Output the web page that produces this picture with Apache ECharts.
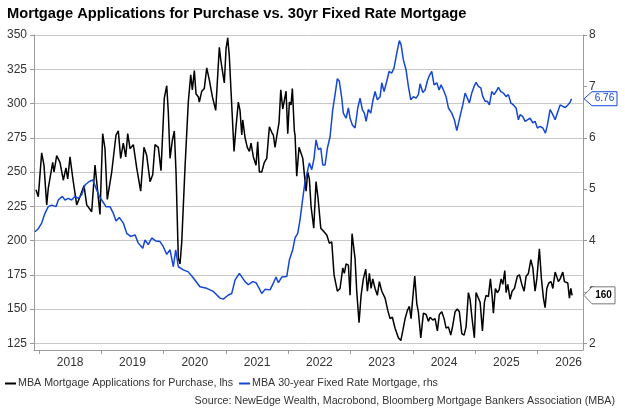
<!DOCTYPE html>
<html>
<head>
<meta charset="utf-8">
<script src="https://cdn.jsdelivr.net/npm/echarts@6/dist/echarts.min.js"></script>
<style>
html, body { margin: 0; padding: 0; background: #fff; }
#main { width: 625px; height: 419px; }
</style>
</head>
<body>
<div id="main"></div>
<script>
// x values are fractional years (2018.0 = 1 Jan 2018)
var yearTicks = [2018, 2019, 2020, 2021, 2022, 2023, 2024, 2025, 2026];
var yearLabelPos = [2018.5, 2019.5, 2020.5, 2021.5, 2022.5, 2023.5, 2024.5, 2025.5, 2026.5];
var leftTicks = [125, 150, 175, 200, 225, 250, 275, 300, 325, 350];
var rightTicks = [2, 3, 4, 5, 6, 7, 8];

// MBA Mortgage Applications for Purchase (lhs)
var purchaseT = [
	2017.952, 2017.989, 2018.043, 2018.080, 2018.124, 2018.149, 2018.220, 2018.241, 2018.284, 2018.337,
	2018.390, 2018.433, 2018.461, 2018.498, 2018.541, 2018.605, 2018.658, 2018.722, 2018.766, 2018.846,
	2018.899, 2018.926, 2018.979, 2019.022, 2019.059, 2019.096, 2019.167, 2019.236, 2019.273, 2019.311,
	2019.353, 2019.392, 2019.424, 2019.461, 2019.514, 2019.568, 2019.632, 2019.685, 2019.729, 2019.782,
	2019.825, 2019.862, 2019.915, 2019.958, 2020.011, 2020.050, 2020.075, 2020.103, 2020.140, 2020.172,
	2020.199, 2020.236, 2020.263, 2020.291, 2020.343, 2020.396, 2020.435, 2020.461, 2020.493, 2020.520,
	2020.557, 2020.573, 2020.612, 2020.653, 2020.692, 2020.734, 2020.782, 2020.836, 2020.894, 2020.917,
	2020.933, 2020.974, 2021.002, 2021.029, 2021.055, 2021.082, 2021.130, 2021.162, 2021.199, 2021.226,
	2021.254, 2021.270, 2021.307, 2021.343, 2021.376, 2021.403, 2021.440, 2021.483, 2021.510, 2021.536,
	2021.575, 2021.616, 2021.655, 2021.697, 2021.735, 2021.761, 2021.788, 2021.815, 2021.852, 2021.880,
	2021.912, 2021.937, 2021.965, 2021.992, 2022.018, 2022.045, 2022.066, 2022.098, 2022.109, 2022.136,
	2022.173, 2022.205, 2022.233, 2022.258, 2022.286, 2022.313, 2022.339, 2022.366, 2022.393, 2022.409,
	2022.446, 2022.478, 2022.522, 2022.563, 2022.618, 2022.660, 2022.698, 2022.735, 2022.788, 2022.831,
	2022.875, 2022.900, 2022.928, 2022.965, 2022.992, 2023.024, 2023.045, 2023.072, 2023.099, 2023.136,
	2023.169, 2023.205, 2023.244, 2023.270, 2023.302, 2023.329, 2023.356, 2023.393, 2023.430, 2023.462,
	2023.501, 2023.554, 2023.597, 2023.634, 2023.671, 2023.714, 2023.767, 2023.806, 2023.838, 2023.875,
	2023.912, 2023.944, 2023.971, 2023.998, 2024.030, 2024.063, 2024.088, 2024.127, 2024.169, 2024.212,
	2024.249, 2024.276, 2024.319, 2024.356, 2024.393, 2024.425, 2024.464, 2024.501, 2024.533, 2024.570,
	2024.608, 2024.640, 2024.677, 2024.714, 2024.746, 2024.785, 2024.822, 2024.854, 2024.891, 2024.918,
	2024.950, 2024.987, 2025.014, 2025.042, 2025.079, 2025.116, 2025.148, 2025.175, 2025.212, 2025.244,
	2025.271, 2025.292, 2025.324, 2025.356, 2025.384, 2025.416, 2025.443, 2025.475, 2025.496, 2025.523,
	2025.560, 2025.592, 2025.629, 2025.677, 2025.710, 2025.748, 2025.785, 2025.817, 2025.854, 2025.893,
	2025.925, 2025.961, 2025.989, 2026.030, 2026.063, 2026.095, 2026.122, 2026.149, 2026.181, 2026.218,
	2026.246, 2026.283, 2026.310, 2026.335, 2026.363, 2026.406, 2026.432, 2026.459, 2026.486, 2026.512,
	2026.535, 2026.555
];
var purchaseVal = [
	237, 232, 264, 255, 226, 238, 257, 250, 262, 257,
	244, 253, 245, 261, 246, 226, 232, 240, 226, 221,
	255, 243, 219, 278, 267, 230, 250, 277, 280, 260,
	271, 261, 278, 267, 270, 253, 236, 268, 262, 243,
	248, 270, 268, 251, 304, 313, 294, 260, 273, 280,
	250, 187, 183, 199, 253, 301, 321, 310, 324, 307,
	305, 301, 309, 311, 326, 317, 305, 295, 341, 332,
	327, 315, 340, 348, 334, 309, 265, 283, 301, 295,
	277, 288, 275, 268, 265, 271, 261, 255, 272, 250,
	250, 257, 260, 283, 279, 277, 268, 276, 286, 310,
	296, 295, 309, 278, 301, 299, 311, 280, 277, 247,
	268, 267, 260, 259, 236, 250, 245, 225, 224, 209,
	243, 231, 209, 207, 204, 198, 199, 175, 163, 165,
	180, 176, 183, 182, 160, 205, 197, 187, 163, 140,
	160, 172, 179, 163, 176, 165, 172, 165, 160, 170,
	163, 158, 149, 143, 144, 136, 129, 127, 134, 143,
	149, 152, 143, 158, 174, 154, 148, 129, 147, 146,
	141, 144, 142, 143, 134, 146, 148, 143, 136, 137,
	131, 138, 148, 150, 148, 132, 131, 137, 162, 157,
	143, 129, 162, 163, 155, 134, 155, 160, 159, 172,
	160, 147, 165, 162, 164, 172, 168, 178, 162, 168,
	157, 163, 165, 174, 175, 168, 163, 174, 176, 186,
	180, 163, 172, 194, 172, 158, 151, 165, 169, 170,
	165, 177, 176, 170, 172, 177, 170, 171, 169, 158,
	165, 160
];

// MBA 30-year Fixed Rate Mortgage (rhs)
var rateT = [
	2017.936, 2017.989, 2018.043, 2018.096, 2018.149, 2018.204, 2018.273, 2018.310, 2018.374, 2018.417,
	2018.470, 2018.525, 2018.578, 2018.631, 2018.685, 2018.738, 2018.807, 2018.862, 2018.915, 2018.968,
	2019.022, 2019.075, 2019.140, 2019.193, 2019.236, 2019.289, 2019.353, 2019.408, 2019.472, 2019.541,
	2019.594, 2019.665, 2019.701, 2019.754, 2019.809, 2019.878, 2019.942, 2019.995, 2020.050, 2020.075,
	2020.103, 2020.156, 2020.194, 2020.236, 2020.316, 2020.396, 2020.477, 2020.584, 2020.692, 2020.798,
	2020.905, 2020.958, 2021.039, 2021.093, 2021.146, 2021.215, 2021.242, 2021.307, 2021.360, 2021.430,
	2021.483, 2021.520, 2021.575, 2021.628, 2021.708, 2021.761, 2021.804, 2021.841, 2021.896, 2021.976,
	2022.018, 2022.072, 2022.109, 2022.152, 2022.189, 2022.233, 2022.270, 2022.307, 2022.339, 2022.377,
	2022.414, 2022.446, 2022.483, 2022.522, 2022.554, 2022.591, 2022.628, 2022.671, 2022.714, 2022.751,
	2022.788, 2022.820, 2022.859, 2022.884, 2022.928, 2022.965, 2022.992, 2023.029, 2023.072, 2023.116,
	2023.152, 2023.189, 2023.222, 2023.249, 2023.286, 2023.324, 2023.356, 2023.393, 2023.430, 2023.474,
	2023.501, 2023.538, 2023.581, 2023.618, 2023.661, 2023.698, 2023.742, 2023.783, 2023.811, 2023.847,
	2023.891, 2023.928, 2023.966, 2024.008, 2024.051, 2024.088, 2024.116, 2024.159, 2024.196, 2024.233,
	2024.265, 2024.303, 2024.340, 2024.384, 2024.421, 2024.453, 2024.490, 2024.533, 2024.570, 2024.624,
	2024.666, 2024.705, 2024.737, 2024.769, 2024.801, 2024.838, 2024.865, 2024.907, 2024.945, 2024.982,
	2025.014, 2025.051, 2025.090, 2025.122, 2025.159, 2025.196, 2025.228, 2025.266, 2025.303, 2025.335,
	2025.372, 2025.411, 2025.453, 2025.496, 2025.533, 2025.571, 2025.613, 2025.656, 2025.693, 2025.720,
	2025.764, 2025.801, 2025.838, 2025.881, 2025.925, 2025.961, 2025.998, 2026.042, 2026.085, 2026.127,
	2026.159, 2026.202, 2026.246, 2026.283, 2026.319, 2026.363, 2026.406, 2026.448, 2026.486, 2026.523,
	2026.546
];
var rateVal = [
	4.17, 4.23, 4.34, 4.53, 4.66, 4.69, 4.66, 4.79, 4.86, 4.79,
	4.82, 4.79, 4.86, 4.82, 4.89, 5.08, 5.15, 5.18, 5.02, 4.86,
	4.76, 4.66, 4.66, 4.53, 4.38, 4.45, 4.34, 4.14, 4.08, 4.11,
	3.95, 3.85, 4.01, 3.92, 4.05, 3.99, 3.98, 3.88, 3.73, 3.72,
	3.82, 3.49, 3.82, 3.49, 3.43, 3.39, 3.27, 3.10, 3.07, 3.01,
	2.88, 2.86, 2.94, 2.97, 3.23, 3.36, 3.33, 3.20, 3.14, 3.20,
	3.18, 3.10, 2.97, 3.05, 3.04, 3.17, 3.29, 3.18, 3.29, 3.30,
	3.62, 3.82, 4.05, 4.14, 4.40, 4.82, 5.15, 5.34, 5.51, 5.38,
	5.60, 5.96, 5.77, 5.80, 5.47, 5.47, 5.80, 6.02, 6.55, 6.84,
	7.15, 7.10, 6.77, 6.48, 6.38, 6.58, 6.38, 6.25, 6.19, 6.58,
	6.77, 6.55, 6.48, 6.32, 6.55, 6.48, 6.71, 6.90, 6.74, 6.80,
	7.07, 6.90, 7.10, 7.29, 7.26, 7.36, 7.65, 7.89, 7.81, 7.52,
	7.32, 7.00, 6.74, 6.80, 6.77, 6.84, 7.05, 6.88, 6.93, 7.11,
	7.21, 7.29, 7.03, 7.07, 6.93, 7.03, 6.93, 6.80, 6.58, 6.48,
	6.35, 6.14, 6.16, 6.48, 6.64, 6.87, 6.90, 6.68, 6.87, 7.00,
	7.08, 7.00, 6.97, 6.80, 6.71, 6.71, 6.64, 6.90, 6.84, 6.90,
	6.98, 6.90, 6.87, 6.80, 6.84, 6.68, 6.64, 6.58, 6.35, 6.45,
	6.41, 6.32, 6.35, 6.38, 6.29, 6.32, 6.19, 6.22, 6.19, 6.09,
	6.25, 6.55, 6.45, 6.35, 6.48, 6.64, 6.61, 6.59, 6.64, 6.69,
	6.76
];

var FONT = '"Liberation Sans", Arial, sans-serif';
var BLACK = '#000000';
var BLUE = '#1447d4';
var AXIS_GREY = '#9a9a9a';

function pairs(xs, ys) {
	var out = [];
	for (var i = 0; i < xs.length; i++) {
		out.push([xs[i], ys[i]]);
	}
	return out;
}

var chart = echarts.init(document.getElementById('main'), null, { renderer: 'canvas' });

var option = {
	animation: false,
	backgroundColor: '#fff',
	title: [{
		text: 'Mortgage Applications for Purchase vs. 30yr Fixed Rate Mortgage',
		left: 7,
		top: 6,
		padding: 0,
		textStyle: { fontFamily: FONT, fontSize: 14.7, fontWeight: 'bold', color: '#000' }
	}, {
		text: 'Source: NewEdge Wealth, Macrobond, Bloomberg Mortgage Bankers Association (MBA)',
		right: 10,
		top: 396,
		padding: 0,
		textStyle: { fontFamily: FONT, fontSize: 10.7, fontWeight: 'normal', color: '#333' }
	}],
	legend: {
		left: 5,
		top: 378,
		padding: 0,
		itemGap: 6,
		icon: 'rect',
		itemWidth: 11,
		itemHeight: 2,
		textStyle: { fontFamily: FONT, fontSize: 10.7, color: '#333', padding: [0, 0, 0, -3] },
		data: ['MBA Mortgage Applications for Purchase, lhs', 'MBA 30-year Fixed Rate Mortgage, rhs']
	},
	grid: {
		left: 34,
		right: 42,
		top: 35,
		bottom: 69,
		containLabel: false
	},
	xAxis: {
		type: 'value',
		min: 2017.92,
		max: 2026.73,
		axisLine: { onZero: false, lineStyle: { color: AXIS_GREY } },
		axisTick: { customValues: yearTicks, length: 4, lineStyle: { color: AXIS_GREY } },
		axisLabel: {
			customValues: yearLabelPos,
			formatter: function(v) { return String(Math.floor(v)); },
			fontFamily: FONT,
			fontSize: 12,
			color: '#333',
			margin: 7
		},
		splitLine: { show: false }
	},
	yAxis: [{
		type: 'value',
		position: 'left',
		min: 120.1,
		max: 350,
		axisLine: { show: true, lineStyle: { color: AXIS_GREY } },
		axisTick: { show: true, customValues: leftTicks, length: 4, lineStyle: { color: AXIS_GREY } },
		axisLabel: { customValues: leftTicks, fontFamily: FONT, fontSize: 12, color: '#333', margin: 7 },
		splitLine: { show: true, lineStyle: { color: '#c8c8c8', width: 1 } }
	}, {
		type: 'value',
		position: 'right',
		min: 1.87,
		max: 8,
		axisLine: { show: true, lineStyle: { color: AXIS_GREY } },
		axisTick: { show: true, customValues: rightTicks, length: 4, lineStyle: { color: AXIS_GREY } },
		axisLabel: { customValues: rightTicks, fontFamily: FONT, fontSize: 12, color: '#333', margin: 6 },
		splitLine: { show: false }
	}],
	series: [{
		name: 'MBA Mortgage Applications for Purchase, lhs',
		type: 'line',
		yAxisIndex: 0,
		showSymbol: false,
		color: BLACK,
		lineStyle: { color: BLACK, width: 1.5 },
		data: pairs(purchaseT, purchaseVal)
	}, {
		name: 'MBA 30-year Fixed Rate Mortgage, rhs',
		type: 'line',
		yAxisIndex: 1,
		showSymbol: false,
		color: BLUE,
		lineStyle: { color: BLUE, width: 1.5 },
		data: pairs(rateT, rateVal)
	}]
};
chart.setOption(option);

// last-value tags on the right axis
function valueTag(axisIndex, value, label, color, borderColor, bold, boxW, boxH) {
	var x0 = chart.convertToPixel({ xAxisIndex: 0 }, option.xAxis.max);
	var y = chart.convertToPixel({ yAxisIndex: axisIndex }, value);
	var h = boxH / 2;
	return {
		type: 'group',
		z: 100,
		children: [{
			type: 'polygon',
			z: 100,
			shape: {
				points: [[x0 + 1, y], [x0 + 9, y - h], [x0 + 9 + boxW, y - h], [x0 + 9 + boxW, y + h], [x0 + 9, y + h]]
			},
			style: { fill: '#fff', stroke: borderColor, lineWidth: 1 }
		}, {
			type: 'text',
			z: 101,
			x: x0 + 9 + boxW / 2,
			y: y,
			style: {
				text: label,
				fill: color,
				font: (bold ? 'bold ' : '') + '10px ' + FONT,
				align: 'center',
				verticalAlign: 'middle'
			}
		}]
	};
}

var lastRate = rateVal[rateVal.length - 1];
var lastPurchase = purchaseVal[purchaseVal.length - 1];
chart.setOption({
	graphic: [
		valueTag(1, lastRate, lastRate.toFixed(2), BLUE, BLUE, false, 25, 14),
		valueTag(0, lastPurchase, String(lastPurchase), '#000', '#777', true, 23, 17)
	]
});
</script>
</body>
</html>
